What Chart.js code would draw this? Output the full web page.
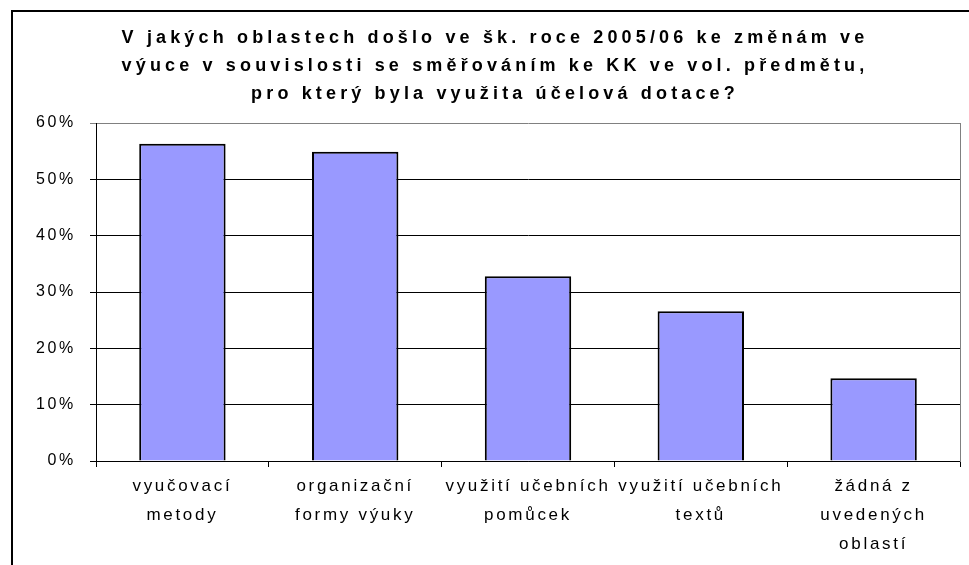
<!DOCTYPE html>
<html>
<head>
<meta charset="utf-8">
<script src="https://cdn.jsdelivr.net/npm/chart.js@4"></script>
<style>
  html, body { margin: 0; padding: 0; background: #fff; overflow: hidden; }
  #wrap { position: absolute; left: 0; top: 0; width: 969px; height: 565px; }
  #frame { position: absolute; left: 11px; top: 10px; width: 2000px; height: 2000px;
           border-left: 2px solid #000; border-top: 2px solid #000; }
  canvas { position: absolute; left: 0; top: 0; }
</style>
</head>
<body>
<div id="wrap">
  <div id="frame"></div>
  <canvas id="c" width="969" height="565"></canvas>
</div>
<script>
const titleLines = [
  "V jakých oblastech došlo ve šk. roce 2005/06 ke změnám ve",
  "výuce v souvislosti se směřováním ke KK ve vol. předmětu,",
  "pro který byla využita účelová dotace?"
];
const categories = [
  ["vyučovací", "metody"],
  ["organizační", "formy výuky"],
  ["využití učebních", "pomůcek"],
  ["využití učebních", "textů"],
  ["žádná z", "uvedených", "oblastí"]
];
const values = [56.3, 54.9, 32.8, 26.6, 14.7];
const yTicks = [0, 10, 20, 30, 40, 50, 60];

const FONT = 'Liberation Sans, Arial, sans-serif';

const spacingPlugin = {
  id: 'spacing',
  beforeUpdate(chart) { chart.ctx.letterSpacing = '2.7px'; },
  beforeDraw(chart) {
    chart.ctx.letterSpacing = '2.7px';
    const tb = chart.titleBlock;
    if (tb && !tb._spPatched) {
      const orig = tb.draw.bind(tb);
      tb.draw = function () {
        const ctx = chart.ctx;
        ctx.save();
        ctx.letterSpacing = '4.15px';
        orig();
        ctx.restore();
      };
      tb._spPatched = true;
    }
  }
};

new Chart(document.getElementById('c'), {
  type: 'bar',
  data: {
    labels: categories,
    datasets: [{
      data: values,
      backgroundColor: '#9999FF',
      borderColor: '#000000',
      borderWidth: 2,
      barPercentage: 0.5,
      categoryPercentage: 1.0
    }]
  },
  options: {
    responsive: false,
    animation: false,
    devicePixelRatio: 1,
    layout: { padding: { left: 30, right: 9, top: 24, bottom: 0 } },
    plugins: {
      legend: { display: false },
      tooltip: { enabled: false },
      title: {
        display: true,
        text: titleLines,
        color: '#000',
        font: { family: FONT, size: 18, weight: 'bold', lineHeight: 28 / 18 },
        padding: { top: 0, bottom: 15 }
      }
    },
    scales: {
      x: {
        afterFit(scale) { scale.height = 104; },
        grid: { display: true, drawOnChartArea: false, drawTicks: true, tickLength: 6, color: '#000', offset: true },
        border: { display: true, color: '#000', width: 1 },
        ticks: {
          color: '#000', padding: 5, maxRotation: 0, autoSkip: false,
          font: { family: FONT, size: 17, lineHeight: 29 / 17 }
        }
      },
      y: {
        min: 0, max: 60,
        afterFit(scale) { scale.width = 66; },
        afterBuildTicks(scale) { scale.ticks = yTicks.map(v => ({ value: v })); },
        grid: {
          drawTicks: true, tickLength: 6,
          color: (ctx) => (ctx.tick && ctx.tick.value === 60) ? '#808080' : '#000',
          lineWidth: 1
        },
        border: { display: true, color: '#000', width: 1 },
        ticks: {
          color: '#000', padding: 14,
          font: { family: FONT, size: 16 },
          callback: (v) => v + '%'
        }
      },
      y2: {
        position: 'right',
        min: 0, max: 60,
        afterFit(scale) { scale.width = 0; },
        grid: { drawOnChartArea: false, drawTicks: false },
        border: { display: true, color: '#808080', width: 1 },
        ticks: { display: false }
      }
    }
  },
  plugins: [spacingPlugin]
});
</script>
</body>
</html>
